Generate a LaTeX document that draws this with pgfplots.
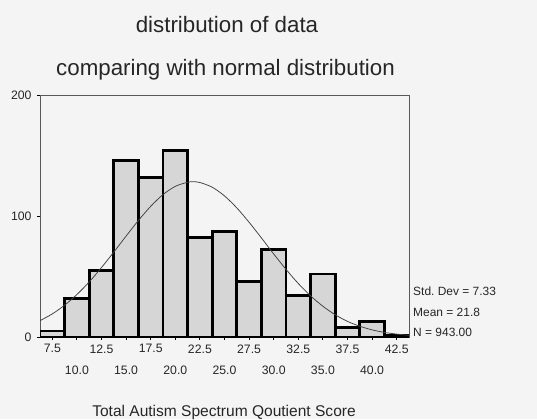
\documentclass[border=0pt]{standalone}
\usepackage{pgfplots}
\pgfplotsset{compat=1.18}
\usepackage{fontspec}
\setmainfont{Liberation Sans}
\definecolor{bg}{gray}{0.955}
\definecolor{barfill}{gray}{0.84}
\definecolor{curve}{gray}{0.25}
\begin{document}
\frenchspacing
\begin{tikzpicture}[x=1bp,y=1bp]
\useasboundingbox (0,0) rectangle (537,419);
\fill[bg] (0,0) rectangle (537,419);
\begin{axis}[
  at={(40bp,82bp)}, anchor=south west,
  scale only axis, width=369bp, height=242bp,
  xmin=6.25, xmax=43.75, ymin=0, ymax=200,
  axis line style={draw=gray!70!black, line width=0.6bp},
  tick align=outside,
  major tick length=3bp,
  tick style={black, line width=0.9bp},
  xtick={7.5,12.5,17.5,22.5,27.5,32.5,37.5,42.5},
  xticklabels={7.5,12.5,17.5,22.5,27.5,32.5,37.5,42.5},
  extra x ticks={10,15,20,25,30,35,40},
  extra x tick labels={10.0,15.0,20.0,25.0,30.0,35.0,40.0},
  extra x tick style={tick label style={yshift=-21bp}},
  xtick pos=bottom,
  ytick={0,100,200},
  ytick pos=left,
  tick label style={font=\fontsize{12.3}{14}\selectfont, text=black!85},
  xticklabel style={yshift=-1bp},
  yticklabel style={xshift=-2bp},
  /pgf/number format/assume math mode=true,
]
\addplot[ybar, bar width=2.5, fill=barfill, draw=black, line width=2.8bp, bar shift=0pt]
  coordinates {
  (7.5,5) (10,32) (12.5,55) (15,146) (17.5,132) (20,154) (22.5,82)
  (25,87) (27.5,46) (30,72) (32.5,34) (35,52) (37.5,8) (40,13) (42.5,1)
  };
\addplot[smooth, curve, line width=0.75bp] coordinates {
  (6.25,13.5) (7.5,19.1) (8.75,26.3) (10,35.1) (11.25,45.5) (12.5,57.4)
  (13.75,70.2) (15,83.4) (16.25,96.3) (17.5,108.0) (18.75,117.7) (20,124.5)
  (21.25,127.9) (21.8,128.3) (22.5,127.7) (23.75,123.8) (25,116.6) (26.25,106.7)
  (27.5,94.8) (28.75,81.9) (30,68.6) (31.25,55.9) (32.5,44.2) (33.75,34.0)
  (35,25.4) (36.25,18.4) (37.5,12.9) (38.75,8.9) (40,5.9) (41.25,3.8)
  (42.5,2.4) (43.75,1.4)
  };
\draw[black, line width=2.4bp] (axis cs:6.25,0) -- (axis cs:43.75,0);
\end{axis}
\node[anchor=base, font=\fontsize{22.4}{26}\selectfont, text=black!85] at (227,387) {distribution of data};
\node[anchor=base, font=\fontsize{22.4}{26}\selectfont, text=black!85] at (225.5,344) {comparing with normal distribution};
\node[anchor=base, font=\fontsize{15.6}{18}\selectfont, text=black!85] at (224,3) {Total Autism Spectrum Qoutient Score};
\node[anchor=base west, inner sep=0pt, font=\fontsize{12}{14}\selectfont, text=black!85] at (413,124) {Std. Dev = 7.33};
\node[anchor=base west, inner sep=0pt, font=\fontsize{12}{14}\selectfont, text=black!85] at (413,103) {Mean = 21.8};
\node[anchor=base west, inner sep=0pt, font=\fontsize{12}{14}\selectfont, text=black!85] at (413,83) {N = 943.00};
\end{tikzpicture}
\end{document}
